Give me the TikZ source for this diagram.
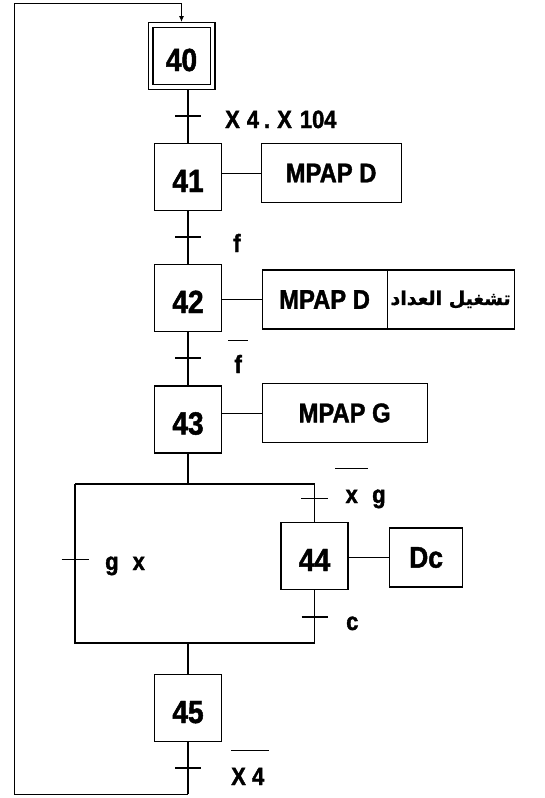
\documentclass[tikz,border=0pt]{standalone}
\usepackage{fontspec}
\setmainfont[FakeStretch=0.88, FakeBold=1.5]{Liberation Sans Bold}
\newfontfamily\arabicfont[Script=Arabic, FakeBold=0.8]{DejaVu Sans Bold}
\TeXXeTstate=1
\usetikzlibrary{arrows.meta, positioning}
\newcommand{\barre}[2][8pt]{\vbox{\hrule height 1.2pt\kern#1\hbox{#2}}}
\newcommand{\fs}[1]{\fontsize{#1}{#1}\selectfont}

\begin{document}
\begin{tikzpicture}[
  x=1pt, y=-1pt,
  stepbox/.style={draw, line width=1.2pt, minimum width=67pt, minimum height=67pt,
                  inner sep=0pt, text height=30pt, text depth=0pt, font=\fs{32}},
  initstep/.style={stepbox, double, double distance=3.6pt, minimum width=62pt,
                   minimum height=62pt, outer sep=3pt},
  actbox/.style={draw, line width=1.2pt, minimum height=59pt, inner sep=0pt,
                 outer sep=0pt, font=\fs{27}},
  link/.style={line width=1.2pt},
  actlink/.style={line width=1pt},
  trans/.style={line width=2.3pt},
  transthin/.style={line width=1pt},
  lbl/.style={anchor=base west, inner sep=0pt, font=\fs{25}}
]
\useasboundingbox (0,0) rectangle (545,798);

\node[initstep] (s40) at (181.5,56) {40};
\node[stepbox] (s41) at (188,177) {41};
\node[stepbox] (s42) at (188,298) {42};
\node[stepbox] (s43) at (188,419.5) {43};
\node[stepbox] (s44) at (314.5,556) {44};
\node[stepbox] (s45) at (188,708) {45};

\node[actbox, minimum width=140pt, right=39pt of s41, yshift=4pt] (a41) {MPAP D};
\node[actbox, minimum width=125pt, right=40pt of s42, yshift=-1.5pt] (a42) {MPAP D};
\node[actbox, minimum width=127pt, right=0pt of a42,
      font={\arabicfont\fs{19}}] (a42b) {\beginR تشغيل العداد\endR};
\node[actbox, minimum width=165pt, right=40pt of s43, yshift=6.5pt] (a43) {MPAP G};
\node[actbox, minimum width=73pt, right=41pt of s44, yshift=-1.5pt, font=\fs{30}] (a44) {Dc};

\draw[actlink] (s41.east |- a41.west) -- (a41.west);
\draw[actlink] (s42.east |- a42.west) -- (a42.west);
\draw[actlink] (s43.east |- a43.west) -- (a43.west);
\draw[actlink] (s44.east |- a44.west) -- (a44.west);

\coordinate (dvL) at (75,484);
\coordinate (dvR) at (314.5,484);
\coordinate (cvL) at (75,643);
\coordinate (cvR) at (314.5,643);
\coordinate (back) at (14,794);
\coordinate (top) at (14,3);

\draw[link] (s41.north |- s40.south) -- (s41.north);
\draw[link] (s41.south) -- (s42.north);
\draw[link] (s42.south) -- (s43.north);
\draw[link] (s43.south) -- (s43.south |- dvL);
\draw[link] (dvL) -- (dvR) -- (s44.north);
\draw[link] (dvL) -- (cvL) -- (cvR) -- (s44.south);
\draw[link] (s45.north |- cvL) -- (s45.north);
\draw[link] (s45.south) -- (s45.south |- back);
\draw[actlink, -{Latex[length=6pt, width=5pt]}] (s45.south |- back) -- (back) -- (top) -| (s40.north);

\coordinate (t1) at (188,116);
\coordinate (t2) at (188,237);
\coordinate (t3) at (188,358);
\coordinate (t4) at (314.5,498);
\coordinate (t5) at (314.5,617);
\coordinate (t6) at (75,559);
\coordinate (t7) at (188,768);
\foreach \t in {t1,t2,t3,t5,t7}
  \draw[trans] ([xshift=-13pt]\t) -- ([xshift=13pt]\t);
\foreach \t in {t4,t6}
  \draw[transthin] ([xshift=-13.5pt]\t) -- ([xshift=13.5pt]\t);

\node[lbl] (l1) at (225,128) {X\kern7pt 4\kern5pt.\kern7pt X\kern8pt 104};
\node[lbl] (l2) at (233,252) {f};
\node[lbl] (l3) at (228,373) {\barre[14pt]{\hbox to 20pt{\hss f\hss}}};
\node[lbl] (l4) at (335,503) {\barre[21pt]{\hbox to 33pt{\hss x\hss}}\kern4pt g};
\node[lbl] (l5) at (346,630) {c};
\node[lbl] (l6) at (105,570) {g\kern14pt x};
\node[lbl] (l7) at (231,785) {\barre[17pt]{X 4\kern5pt}};
\end{tikzpicture}
\end{document}
